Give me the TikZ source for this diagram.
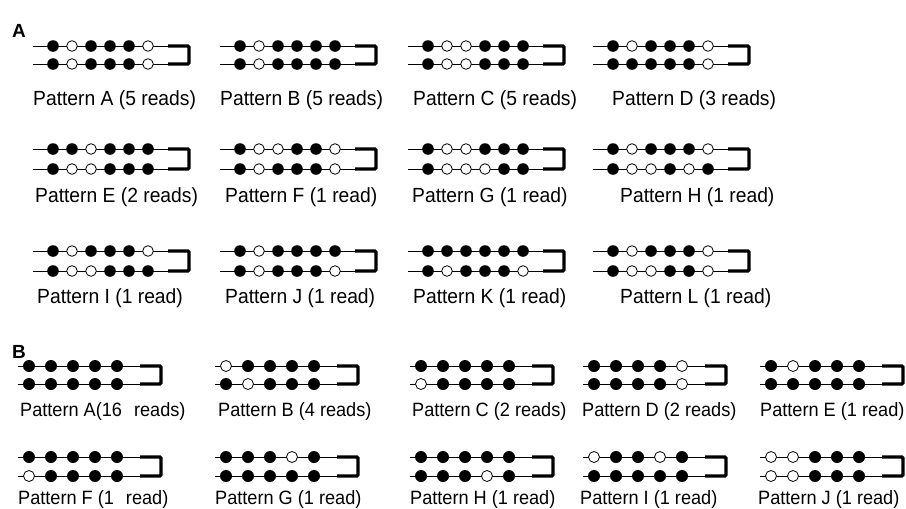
\documentclass[tikz,border=0pt]{standalone}
\usepackage{fontspec}
\setmainfont{Liberation Sans}
\newfontfamily\lblfont[FakeStretch=0.94]{Liberation Sans}
\begin{document}
\begin{tikzpicture}[x=1pt,y=-1pt,
  thinline/.style={line width=0.75pt},
  hairpin/.style={line width=3.4pt,rounded corners=1.2pt},
  dot/.style={line width=0.8pt},
  lblA/.style={anchor=west,inner sep=0pt,font=\lblfont\fontsize{20.5}{20.5}\selectfont},
  lblB/.style={anchor=west,inner sep=0pt,font=\lblfont\fontsize{19.3}{19.3}\selectfont},
  sect/.style={anchor=west,inner sep=0pt,font=\fontsize{19}{19}\selectfont\bfseries}]
\useasboundingbox (0,0) rectangle (906,509);
% A-type: 6 sites
\newcommand\patA[5]{%
  \draw[thinline] (#1,#2) -- ++(135,0);
  \draw[thinline] (#1,#3) -- ++(135,0);
  \draw[hairpin] ({#1+135},#2) -- ({#1+156},#2) -- ({#1+156},#3) -- ({#1+135},#3);
  \foreach \b [count=\i] in {#4} {\ifnum\b=1 \fill ({#1+1+19*\i},#2) circle (5.8);\else \draw[dot,fill=white] ({#1+1+19*\i},#2) circle (5.3);\fi}
  \foreach \b [count=\i] in {#5} {\ifnum\b=1 \fill ({#1+1+19*\i},#3) circle (5.8);\else \draw[dot,fill=white] ({#1+1+19*\i},#3) circle (5.3);\fi}
}
% B-type: 5 sites
\newcommand\patB[5]{%
  \draw[thinline] (#1,#2) -- ++(122,0);
  \draw[thinline] (#1,#3) -- ++(122,0);
  \draw[hairpin] ({#1+122},#2) -- ({#1+143},#2) -- ({#1+143},#3) -- ({#1+122},#3);
  \foreach \b [count=\i] in {#4} {\ifnum\b=1 \fill ({#1-11+22*\i},#2) circle (6);\else \draw[dot,fill=white] ({#1-11+22*\i},#2) circle (5.5);\fi}
  \foreach \b [count=\i] in {#5} {\ifnum\b=1 \fill ({#1-11+22*\i},#3) circle (6);\else \draw[dot,fill=white] ({#1-11+22*\i},#3) circle (5.5);\fi}
}
\node[sect] (secA) at (12,31) {A};
% row 1
\patA{33}{46}{64}{1,0,1,1,1,0}{1,0,1,1,1,0}
\patA{220}{46}{64}{1,0,1,1,1,1}{1,0,1,1,1,1}
\patA{408}{46}{64}{1,0,0,1,1,1}{1,0,0,1,1,1}
\patA{593}{46}{64}{1,0,1,1,1,0}{1,1,1,1,1,0}
\node[lblA] (la) at (33,100) {Pattern A (5 reads)};
\node[lblA] (lb) at (220,100) {Pattern B (5 reads)};
\node[lblA] (lc) at (413,100) {Pattern C (5 reads)};
\node[lblA] (ld) at (612,100) {Pattern D (3 reads)};
% row 2
\patA{33}{149}{169}{1,1,0,1,1,1}{1,0,0,1,1,1}
\patA{220}{149}{169}{1,0,0,1,1,0}{1,0,1,1,1,0}
\patA{408}{149}{169}{1,0,0,1,1,1}{1,0,0,0,1,1}
\patA{593}{149}{169}{1,0,1,1,1,0}{1,0,0,1,0,1}
\node[lblA] (le) at (35,197) {Pattern E (2 reads)};
\node[lblA] (lf) at (225,197) {Pattern F (1 read)};
\node[lblA] (lg) at (412,197) {Pattern G (1 read)};
\node[lblA] (lh) at (620,197) {Pattern H (1 read)};
% row 3
\patA{33}{251}{271}{1,0,1,1,1,0}{1,0,0,1,1,1}
\patA{220}{251}{271}{1,0,1,1,1,1}{1,0,1,1,1,0}
\patA{408}{251}{271}{1,1,1,1,1,1}{1,0,1,1,1,0}
\patA{593}{251}{271}{1,0,1,1,1,0}{1,0,0,1,1,0}
\node[lblA] (li) at (37,298) {Pattern I (1 read)};
\node[lblA] (lj) at (225,298) {Pattern J (1 read)};
\node[lblA] (lk) at (413,298) {Pattern K (1 read)};
\node[lblA] (ll) at (620,298) {Pattern L (1 read)};
% section B
\node[sect] (secB) at (12,352) {B};
\patB{18}{366}{384}{1,1,1,1,1}{1,1,1,1,1}
\patB{215}{366}{384}{0,1,1,1,1}{1,0,1,1,1}
\patB{410}{366}{384}{1,1,1,1,1}{0,1,1,1,1}
\patB{583}{366}{384}{1,1,1,1,0}{1,1,1,1,0}
\patB{760}{366}{384}{1,0,1,1,1}{1,1,1,1,1}
\node[lblB] (ba) at (20,412) {Pattern A(16\hspace{12pt}reads)};
\node[lblB] (bb) at (218,412) {Pattern B (4 reads)};
\node[lblB] (bc) at (412,412) {Pattern C (2 reads)};
\node[lblB] (bd) at (582,412) {Pattern D (2 reads)};
\node[lblB] (be) at (760,412) {Pattern E (1 read)};
\patB{18}{457}{476}{1,1,1,1,1}{0,1,1,1,1}
\patB{215}{457}{476}{1,1,1,0,1}{1,1,1,1,1}
\patB{410}{457}{476}{1,1,1,1,1}{1,1,1,0,1}
\patB{583}{457}{476}{0,1,1,0,1}{1,1,1,1,1}
\patB{760}{457}{476}{0,0,1,1,1}{0,0,1,1,1}
\node[lblB] (bf) at (18,500) {Pattern F (1\hspace{12pt}read)};
\node[lblB] (bg) at (215,500) {Pattern G (1 read)};
\node[lblB] (bh) at (410,500) {Pattern H (1 read)};
\node[lblB] (bi) at (580,500) {Pattern I (1 read)};
\node[lblB] (bj) at (758,500) {Pattern J (1 read)};
\end{tikzpicture}
\end{document}
